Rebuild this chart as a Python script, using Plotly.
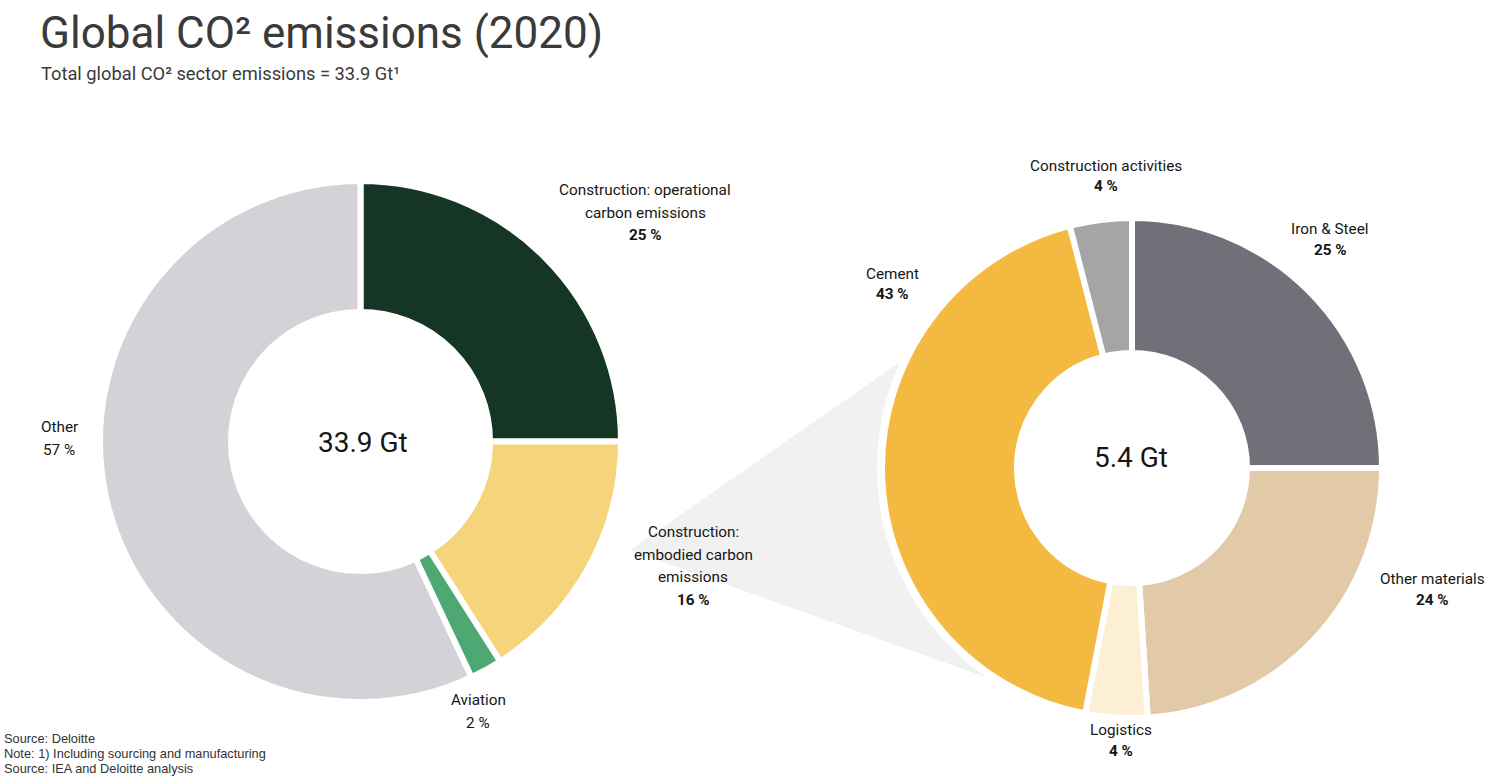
import plotly.graph_objects as go

W, H = 1500, 783

# left donut: global CO2 emissions by sector, 2020 (%)
sector_names = ["Construction: operational<br>carbon emissions",
                "Construction:<br>embodied carbon<br>emissions",
                "Aviation", "Other"]
sector_share = [25, 16, 2, 57]
sector_colors = ["#153625", "#f6d47b", "#4da873", "#d4d2d7"]
sector_total = "33.9 Gt"

# right donut: split of embodied carbon emissions (%)
embodied_names = ["Iron & Steel", "Other materials", "Logistics",
                  "Cement", "Construction activities"]
embodied_share = [25, 24, 4, 43, 4]
embodied_colors = ["#736f78", "#e2c9a7", "#fcefd3", "#f3b941", "#a6a5a6"]
embodied_total = "5.4 Gt"

title = "Global CO² emissions (2020)"
subtitle = "Total global CO² sector emissions = 33.9 Gt¹"
notes = ["Source: Deloitte",
         "Note: 1) Including sourcing and manufacturing",
         "Source: IEA and Deloitte analysis"]

LABEL_FONT = "Roboto, Inter, sans-serif"
GAP = 6  # white separator between slices


def px(x):
    return x / W


def py(y):
    return 1 - y / H


def donut_domain(cx, cy, r):
    r = r + GAP / 2
    return dict(x=[px(cx - r), px(cx + r)], y=[py(cy + r), py(cy - r)])


left = dict(cx=360.5, cy=441.5, r=257.5, inner=132.5)
right = dict(cx=1132, cy=468, r=247, inner=118)

fig = go.Figure()
for d, vals, cols, names in [(left, sector_share, sector_colors, sector_names),
                             (right, embodied_share, embodied_colors, embodied_names)]:
    R = d["r"] + GAP / 2
    fig.add_trace(go.Pie(
        values=vals,
        labels=[n.replace("<br>", " ") for n in names],
        sort=False,
        direction="clockwise",
        rotation=0,
        hole=(d["inner"] - GAP / 2) / R,
        marker=dict(colors=cols, line=dict(color="white", width=GAP)),
        textinfo="none",
        hoverinfo="label+percent",
        showlegend=False,
        domain=donut_domain(d["cx"], d["cy"], d["r"]),
    ))

# grey "zoom" wedge from the embodied slice to the breakdown donut
apex = (630, 550)
p1 = (900, 362)
p2 = (988, 678)
fig.add_shape(type="path", xref="paper", yref="paper", layer="below",
              path=(f"M {px(apex[0])},{py(apex[1])} L {px(p1[0])},{py(p1[1])} "
                    f"L {px(right['cx'])},{py(right['cy'])} L {px(p2[0])},{py(p2[1])} Z"),
              fillcolor="#f1f1f1", line=dict(width=0))
rw = 255
fig.add_shape(type="circle", xref="paper", yref="paper", layer="below",
              x0=px(right["cx"] - rw), x1=px(right["cx"] + rw),
              y0=py(right["cy"] + rw), y1=py(right["cy"] - rw),
              fillcolor="white", line=dict(width=0))


def text_block(x, y, lines, size=15, step=22, color="#161616", family=LABEL_FONT,
               anchor="center"):
    for i, t in enumerate(lines):
        fig.add_annotation(x=px(x), y=py(y + i * step), xref="paper", yref="paper",
                           text=t, showarrow=False, xanchor=anchor, yanchor="middle",
                           font=dict(family=family, size=size, color=color))


# slice labels: (x, y of first line)
sector_pos = [(645, 190), (693, 532), (478, 700), (59, 427)]
embodied_pos = [(1330, 229), (1432, 579), (1121, 730), (892, 274), (1106, 166)]

for (x, y), name, v in zip(sector_pos, sector_names, sector_share):
    lines = name.split("<br>")
    pct = f"{v} %" if name in ("Aviation", "Other") else f"<b>{v} %</b>"
    text_block(x, y, lines + [pct], size=15.3, step=22.5)
for (x, y), name, v in zip(embodied_pos, embodied_names, embodied_share):
    text_block(x, y, [name, f"<b>{v} %</b>"], size=15.3, step=20.5)

text_block(363, 443, [sector_total], size=28)
text_block(1131, 457, [embodied_total], size=28)

text_block(38, 33, [title], size=44, color="#3a3a3a", anchor="left")
text_block(39, 73, [subtitle], size=18.3, color="#3a3a3a", anchor="left")
text_block(2, 738, notes, size=12.8, step=15, color="#333333",
           family="Liberation Sans, Arial, sans-serif", anchor="left")

fig.update_layout(
    width=W, height=H,
    margin=dict(l=0, r=0, t=0, b=0),
    paper_bgcolor="white",
    plot_bgcolor="white",
)

# drop the default 8px page margin so the figure fills the window exactly
fig.write_html("out.html", config={"displayModeBar": False},
               post_script="document.body.style.margin = '0';")
